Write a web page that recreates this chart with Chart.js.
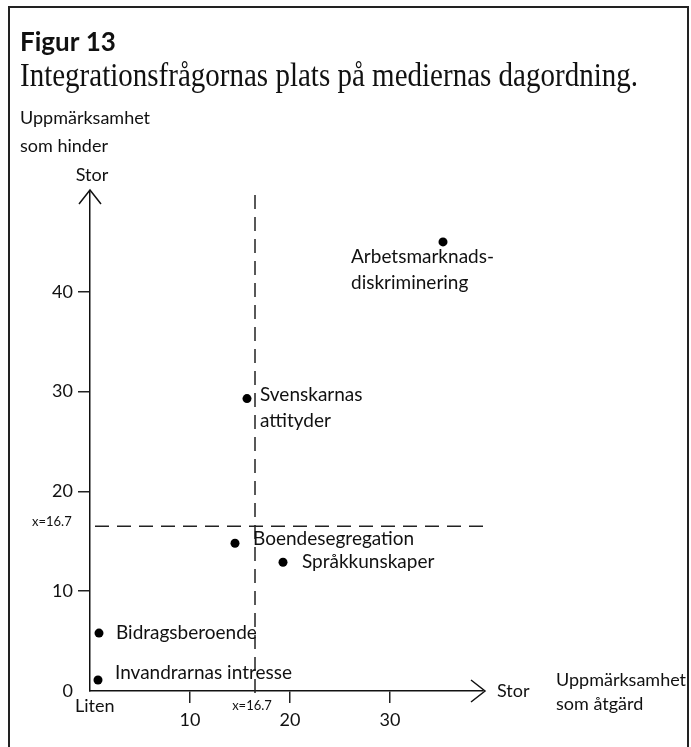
<!DOCTYPE html>
<html><head><meta charset="utf-8">
<script src="https://cdn.jsdelivr.net/npm/chart.js@4/dist/chart.umd.min.js"></script>
<style>html,body{margin:0;padding:0;background:#fff}#wrap{width:691px;height:747px}</style>
</head><body><div id="wrap"><canvas id="c" width="691" height="747"></canvas></div>
<script>
// ---- data ----
const issueNames = [["Arbetsmarknads-","diskriminering"],["Svenskarnas","attityder"],["Boendesegregation"],["Språkkunskaper"],["Bidragsberoende"],["Invandrarnas intresse"]];
const actionAttention = [35.3, 15.7, 14.5, 19.3, 0.9, 0.8];     // x: Uppmärksamhet som åtgärd
const obstacleAttention = [45.0, 29.3, 14.8, 12.9, 5.8, 1.1];   // y: Uppmärksamhet som hinder
const xTickValues = [10, 20, 30];
const yTickValues = [0, 10, 20, 30, 40];
const xAxisMax = 39.3;
const yAxisMax = 50;
const meanX = 16.5;
const meanY = 16.5;
const meanLabel = "x=16.7";

// ---- styles (label offsets in px relative to each dot) ----
const labelOffsets = [[-92,15],[13,-4],[18,-4],[19,0],[17,0],[17,-7]];
const SANS = 'Lato, "Open Sans", sans-serif';
const INK = '#111';

const overlay = {
  id: 'overlay',
  beforeDatasetsDraw(chart) {
    const {ctx, chartArea: a, scales: {x, y}} = chart;
    ctx.save();
    ctx.strokeStyle = '#222'; ctx.lineWidth = 1.5; ctx.setLineDash([14, 8]);
    const vx = x.getPixelForValue(meanX);
    ctx.beginPath(); ctx.moveTo(vx, a.top + 3); ctx.lineTo(vx, a.bottom + 10); ctx.stroke();
    const hy = y.getPixelForValue(meanY);
    ctx.beginPath(); ctx.moveTo(a.left + 5, hy); ctx.lineTo(a.right + 4, hy); ctx.stroke();
    ctx.setLineDash([]);
    ctx.restore();
  },
  afterDraw(chart) {
    const {ctx, chartArea: a, scales: {x, y}} = chart;
    ctx.save();
    // frame
    ctx.strokeStyle = '#222'; ctx.lineWidth = 2;
    ctx.beginPath(); ctx.moveTo(9, 747); ctx.lineTo(9, 7); ctx.lineTo(688, 7); ctx.lineTo(688, 747); ctx.stroke();
    // titles
    ctx.fillStyle = INK; ctx.textBaseline = 'alphabetic'; ctx.textAlign = 'left';
    ctx.font = 'bold 26px ' + SANS;
    ctx.fillText('Figur 13', 20, 51);
    ctx.font = '33px "Liberation Serif", serif';
    ctx.fillText('Integrationsfrågornas plats på mediernas dagordning.', 20, 86, 618);
    // axis titles
    ctx.font = '18px ' + SANS; ctx.textBaseline = 'middle';
    ctx.fillText('Uppmärksamhet', 20, 118);
    ctx.fillText('som hinder', 20, 146);
    ctx.textAlign = 'center';
    ctx.fillText('Stor', a.left + 2, 175);
    ctx.textAlign = 'left';
    ctx.fillText('Stor', a.right + 14, a.bottom);
    ctx.fillText('Uppmärksamhet', 556, 680);
    ctx.fillText('som åtgärd', 556, 704);
    ctx.fillText('Liten', a.left - 15, a.bottom + 15);
    // arrows
    ctx.strokeStyle = INK; ctx.lineWidth = 1.5;
    ctx.beginPath(); ctx.moveTo(a.left - 11, a.top + 12); ctx.lineTo(a.left, a.top - 2); ctx.lineTo(a.left + 11, a.top + 12); ctx.stroke();
    ctx.beginPath(); ctx.moveTo(a.right - 12, a.bottom - 11); ctx.lineTo(a.right + 2, a.bottom); ctx.lineTo(a.right - 12, a.bottom + 11); ctx.stroke();
    // mean labels
    ctx.font = '13px ' + SANS;
    ctx.textAlign = 'left';
    ctx.fillText(meanLabel, 32, y.getPixelForValue(meanY) - 5);
    ctx.textAlign = 'center';
    ctx.fillText(meanLabel, x.getPixelForValue(meanX) - 3, a.bottom + 15);
    // point labels
    ctx.font = '19px ' + SANS; ctx.textAlign = 'left';
    const pts = chart.getDatasetMeta(0).data;
    pts.forEach((p, i) => {
      const [dx, dy] = labelOffsets[i];
      issueNames[i].forEach((line, j) => ctx.fillText(line, p.x + dx, p.y + dy + j * 26));
    });
    ctx.restore();
  }
};

new Chart(document.getElementById('c'), {
  type: 'scatter',
  data: {
    datasets: [{
      data: actionAttention.map((v, i) => ({x: v, y: obstacleAttention[i]})),
      backgroundColor: '#000', borderWidth: 0, pointRadius: 4.5, pointHoverRadius: 4.5
    }]
  },
  options: {
    responsive: false, animation: false,
    layout: {padding: {left: 9, right: 208, top: 192, bottom: 0}},
    plugins: {legend: {display: false}, tooltip: {enabled: false}},
    scales: {
      x: {
        type: 'linear', min: 0, max: xAxisMax,
        afterBuildTicks: s => { s.ticks = xTickValues.map(v => ({value: v})); },
        afterFit: s => { s.height = 56; },
        grid: {drawOnChartArea: false, drawTicks: true, tickLength: 12, color: '#222', lineWidth: 1.5},
        border: {display: true, color: INK, width: 1.5},
        ticks: {font: {family: SANS, size: 18}, color: INK, padding: 6, maxRotation: 0, autoSkip: false}
      },
      y: {
        type: 'linear', min: 0, max: yAxisMax,
        afterBuildTicks: s => { s.ticks = yTickValues.map(v => ({value: v})); },
        afterFit: s => { s.width = 81; },
        grid: {drawOnChartArea: false, drawTicks: true, tickLength: 12, lineWidth: 1.5,
               color: c => (c.tick && c.tick.value === 0) ? 'rgba(0,0,0,0)' : '#222'},
        border: {display: true, color: INK, width: 1.5},
        ticks: {font: {family: SANS, size: 18}, color: INK, padding: 5, autoSkip: false}
      }
    }
  },
  plugins: [overlay]
});
</script>
</body></html>
